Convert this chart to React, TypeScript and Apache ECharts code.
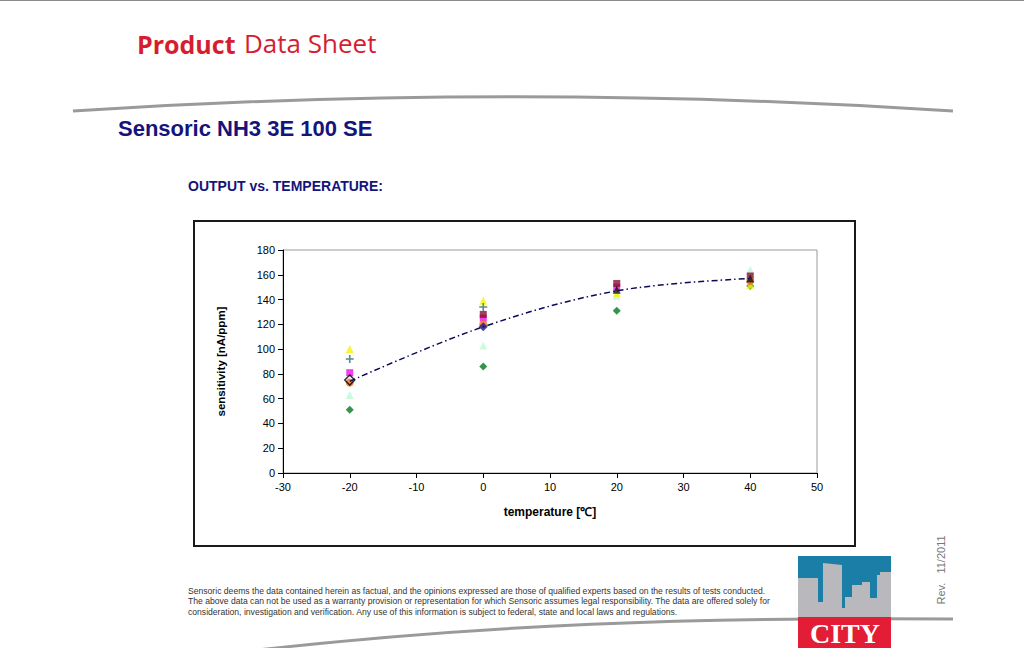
import React, { useEffect, useRef } from "react";
import * as echarts from "echarts";

// ---- data ----
const meanTemps = [-20, 0, 20, 40];
const meanValues = [74, 118, 147, 157];

const yellowTri = [[-20, 100], [0, 139], [20, 145], [40, 152]];
const plusPts = [[-20, 92], [0, 134]];
const magentaSq = [[-20, 81], [0, 125], [20, 150]];
const darkRed = [[0, 128], [20, 153], [40, 159]];
const orangeCirc = [[-20, 73], [0, 120], [40, 155]];
const navyDiamond = [[0, 118]];
const blackOutline = [[-20, 75]];
const blackTri = [[20, 148], [40, 157]];
const lightTri = [[-20, 63], [0, 103], [20, 143], [40, 164]];
const greenDiamond = [[-20, 51], [0, 86], [20, 131], [40, 151]];

const xTicks = { min: -30, max: 50, interval: 10 };
const yTicks = { min: 0, max: 180, interval: 20 };

const footerLines = [
  "Sensoric deems the data contained herein as factual, and the opinions expressed are those of qualified experts based on the results of tests conducted.",
  "The above data can not be used as a warranty provision or representation for which Sensoric assumes legal responsibility. The data are offered solely for",
  "consideration, investigation and verification. Any use of this information is subject to federal, state and local laws and regulations.",
];

const PLUS = "path://M4,0 L6,0 L6,4 L10,4 L10,6 L6,6 L6,10 L4,10 L4,6 L0,6 L0,4 L4,4 Z";

export default function App() {
  const ref = useRef<HTMLDivElement>(null);
  useEffect(() => {
    if (!ref.current) return;
    const chart = echarts.init(ref.current, null, { renderer: "svg" });
    const sc = (name: string, data: number[][], symbol: string, color: string, size = 7, itemStyle: any = null) => ({
      name,
      type: "scatter",
      data,
      symbol,
      symbolSize: size,
      itemStyle: itemStyle || { color },
      z: 3,
    });
    const building = [
      [798, 617], [798, 578], [818, 578], [818, 602], [823, 602], [823, 563], [842, 565], [842, 608],
      [845, 608], [845, 597], [852, 597], [852, 585], [862, 585], [862, 582], [870, 582], [870, 598],
      [877, 598], [877, 575], [880, 575], [880, 572], [891, 572], [891, 617],
    ];
    const axisFont = "Liberation Sans, Arial";
    chart.setOption({
      animation: false,
      backgroundColor: "#ffffff",
      grid: {
        left: 283, right: 207, top: 250, bottom: 175,
        show: true, borderColor: "#9a9a9a", borderWidth: 1, backgroundColor: "transparent",
      },
      xAxis: {
        type: "value", min: xTicks.min, max: xTicks.max, interval: xTicks.interval,
        axisLine: { show: true, onZero: false, lineStyle: { color: "#000", width: 1 } },
        axisTick: { show: true, inside: false, length: 5, lineStyle: { color: "#000" } },
        axisLabel: { color: "#000", fontSize: 11, fontFamily: axisFont, margin: 8 },
        splitLine: { show: false },
        name: "temperature [℃]", nameLocation: "middle", nameGap: 33,
        nameTextStyle: { color: "#000", fontSize: 12, fontWeight: "bold", fontFamily: axisFont },
      },
      yAxis: {
        type: "value", min: yTicks.min, max: yTicks.max, interval: yTicks.interval,
        axisLine: { show: true, onZero: false, lineStyle: { color: "#000", width: 1 } },
        axisTick: { show: true, inside: false, length: 5, lineStyle: { color: "#000" } },
        axisLabel: { color: "#000", fontSize: 11, fontFamily: axisFont, margin: 8 },
        splitLine: { show: false },
        name: "sensitivity [nA/ppm]", nameLocation: "middle", nameGap: 56,
        nameTextStyle: { color: "#000", fontSize: 11.5, fontWeight: "bold", fontFamily: axisFont },
      },
      series: [
        sc("green", greenDiamond, "diamond", "#007a1e", 8),
        sc("light", lightTri, "triangle", "#bff8d8", 8),
        sc("yellow", yellowTri, "triangle", "#f5f500", 8),
        sc("plus", plusPts, PLUS, "#2f6b75", 8),
        sc("magenta", magentaSq, "rect", "#ee10ee", 7),
        sc("darkred", darkRed, "rect", "#8a1030", 7),
        sc("orange", orangeCirc, "circle", "#f07020", 8),
        sc("blacktri", blackTri, "triangle", "#101010", 8),
        sc("navy", navyDiamond, "diamond", "#1a1a90", 9),
        sc("outline", blackOutline, "diamond", "#000", 10, { color: "transparent", borderColor: "#000", borderWidth: 1.5 }),
        {
          name: "mean", type: "line", smooth: 0.35, symbol: "none",
          data: meanTemps.map((t, i) => [t, meanValues[i]]),
          lineStyle: { color: "#0a0a5a", width: 1.5, type: [6, 3, 1.5, 3] },
          z: 4,
        },
      ],
      graphic: [
        { type: "line", shape: { x1: 0, y1: 0.5, x2: 1024, y2: 0.5 }, style: { stroke: "#8a8a8a", lineWidth: 1 } },
        {
          type: "text", left: 137, top: 31,
          style: { text: "Product", fontSize: 25, fontWeight: "bold", fill: "#d61d30", fontFamily: "Open Sans" },
        },
        {
          type: "text", left: 244, top: 30,
          style: { text: "Data Sheet", fontSize: 26, fontWeight: "normal", fill: "#d61d30", fontFamily: "Open Sans" },
        },
        {
          type: "bezierCurve",
          shape: { x1: 73, y1: 111, cpx1: 366, cpy1: 92, cpx2: 660, cpy2: 92, x2: 953, y2: 111 },
          style: { stroke: "#9a9a9a", lineWidth: 3, fill: "none" },
        },
        {
          type: "text", left: 118, top: 117,
          style: { text: "Sensoric NH3 3E 100 SE", fontSize: 22, fontWeight: "bold", fill: "#14147a", fontFamily: axisFont },
        },
        {
          type: "text", left: 188, top: 179,
          style: { text: "OUTPUT vs. TEMPERATURE:", fontSize: 14, fontWeight: "bold", fill: "#14147a", fontFamily: axisFont },
        },
        {
          type: "rect", shape: { x: 194, y: 221, width: 661, height: 325 },
          style: { fill: "none", stroke: "#1a1a1a", lineWidth: 2 },
        },
        {
          type: "bezierCurve",
          shape: { x1: 240, y1: 652, cpx1: 480, cpy1: 624, cpx2: 700, cpy2: 617, x2: 953, y2: 619 },
          style: { stroke: "#9a9a9a", lineWidth: 3, fill: "none" },
        },
        ...footerLines.map((t, i) => ({
          type: "text", left: 188, top: 586 + i * 10.5,
          style: { text: t, fontSize: 8.6, fill: "#333", fontFamily: axisFont },
        })),
        { type: "rect", shape: { x: 798, y: 556, width: 93, height: 62 }, style: { fill: "#1b7ea6" } },
        { type: "polygon", shape: { points: building }, style: { fill: "#b9b9bd" } },
        { type: "rect", shape: { x: 798, y: 617, width: 93, height: 31 }, style: { fill: "#e21d35" } },
        {
          type: "text", x: 845, y: 633,
          style: {
            text: "CITY", fontSize: 28, fontWeight: "bold", fill: "#ffffff",
            fontFamily: "Liberation Serif, Times New Roman", align: "center", verticalAlign: "middle",
          },
        },
        {
          type: "text", x: 941, y: 570, rotation: Math.PI / 2,
          style: {
            text: "Rev.   11/2011", fontSize: 11, fill: "#777", fontFamily: axisFont,
            align: "center", verticalAlign: "middle",
          },
        },
      ],
    });
    return () => chart.dispose();
  }, []);
  return (
    <div
      ref={ref}
      style={{ position: "absolute", left: 0, top: 0, width: 1024, height: 648 }}
    />
  );
}
